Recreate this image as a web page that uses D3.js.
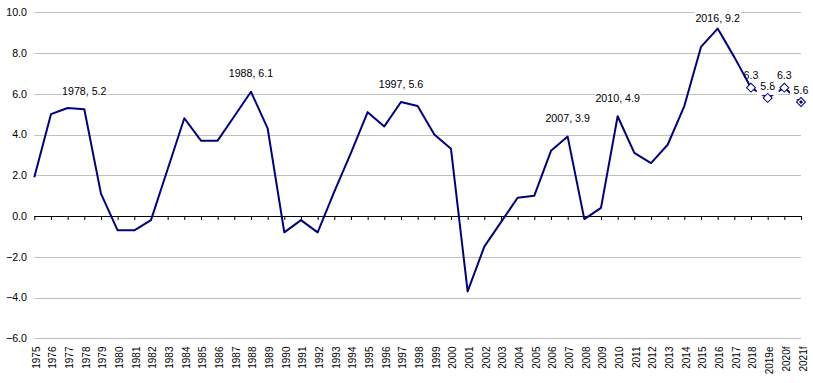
<!DOCTYPE html>
<html><head><meta charset="utf-8">
<script src="https://cdn.jsdelivr.net/npm/d3@7"></script>
<style>
body{margin:0;background:#fff}
svg{display:block;font-family:Arial,"Liberation Sans",sans-serif}
</style></head>
<body><svg id="c" width="813" height="383"></svg>
<script>
const categories = ["1975","1976","1977","1978","1979","1980","1981","1982","1983","1984","1985","1986","1987","1988","1989","1990","1991","1992","1993","1994","1995","1996","1997","1998","1999","2000","2001","2002","2003","2004","2005","2006","2007","2008","2009","2010","2011","2012","2013","2014","2015","2016","2017","2018","2019e","2020f","2021f"];
const actualCategories = categories.slice(0, 44);
const actualValues = [1.9,5.0,5.3,5.24,1.1,-0.7,-0.7,-0.2,2.3,4.8,3.7,3.7,4.9,6.1,4.3,-0.8,-0.2,-0.8,1.2,3.1,5.1,4.4,5.6,5.4,4.0,3.3,-3.7,-1.5,-0.3,0.9,1.0,3.2,3.9,-0.15,0.4,4.9,3.1,2.6,3.5,5.4,8.3,9.2,7.8,6.3];
const forecastCategories = ["2018","2019e","2020f","2021f"];
const forecastValues = [6.3,5.8,6.3,5.6];
const labeledYears = ["1978","1988","1997","2007","2010","2016"];
const yTicks = [-6,-4,-2,0,2,4,6,8,10];

const svg = d3.select("#c");
const plotLeft = 34.3, plotRight = 801, plotTop = 12.3, plotBottom = 338.3;
const x = d3.scalePoint().domain(categories).range([plotLeft, plotRight]);
const y = d3.scaleLinear().domain([-6, 10]).range([plotBottom, plotTop]);
const crisp = v => Math.round(v) + 0.5;
const navy = "#000080";
const fmt = d3.format(".1f");

// gridlines
svg.append("g").selectAll("line").data(yTicks.filter(t => t !== 0)).join("line")
  .attr("x1", plotLeft).attr("x2", plotRight)
  .attr("y1", d => crisp(y(d))).attr("y2", d => crisp(y(d)))
  .attr("stroke", "#c0c0c0").attr("stroke-width", 1);

// y tick labels
svg.append("g").selectAll("text").data(yTicks).join("text")
  .attr("x", 27).attr("y", d => y(d)).attr("dy", "0.35em")
  .attr("text-anchor", "end").attr("font-size", "10.67px").attr("fill", "#000")
  .text(d => fmt(d));

// zero axis with ticks
const zeroAxis = svg.append("g").attr("transform", `translate(0,${crisp(y(0)) - 0.5})`)
  .call(d3.axisBottom(x).tickSize(4).tickSizeOuter(0).tickFormat(""));
zeroAxis.select(".domain").attr("stroke", "#000").attr("d", `M${plotLeft},0.5H${plotRight}`);
zeroAxis.selectAll(".tick line").attr("stroke", "#000");

// category labels
const catAxis = svg.append("g").attr("transform", "translate(0,346.5)")
  .call(d3.axisBottom(x).tickSize(0).tickSizeOuter(0));
catAxis.select(".domain").remove();
catAxis.selectAll("text")
  .attr("transform", "rotate(-90)")
  .attr("text-anchor", "end")
  .attr("x", 0).attr("y", 1.5).attr("dy", "0.35em")
  .attr("font-size", "10px").attr("font-family", "Arial, 'Liberation Sans', sans-serif")
  .attr("fill", "#000");

const line = d3.line().x(d => x(d.c)).y(d => y(d.v));
const actual = actualCategories.map((c, i) => ({c, v: actualValues[i]}));
const forecast = forecastCategories.map((c, i) => ({c, v: forecastValues[i]}));

// forecast line
svg.append("path").datum(forecast).attr("d", line)
  .attr("fill", "none").attr("stroke", navy).attr("stroke-width", 2);

// labels with white background
function addLabel(cx, cy, txt, pad) {
  const g = svg.append("g");
  const t = g.append("text").attr("x", cx).attr("y", cy).attr("dy", "0.35em")
    .attr("text-anchor", "middle").attr("font-size", "10.67px").attr("fill", "#000").text(txt);
  const b = t.node().getBBox();
  g.insert("rect", "text").attr("x", b.x - pad).attr("y", b.y - 1).attr("width", b.width + 2 * pad)
    .attr("height", b.height + pad + 1).attr("fill", "#fff");
}
forecast.forEach(d => addLabel(x(d.c), y(d.v) - 12, fmt(d.v), 3.5));
actual.filter(d => labeledYears.includes(d.c)).forEach(d => {
  addLabel(x(d.c), Math.max(plotTop + 6, y(d.v) - 18), `${d.c}, ${fmt(d.v)}`, 1);
});

// main line
svg.append("path").datum(actual).attr("d", line)
  .attr("fill", "none").attr("stroke", navy).attr("stroke-width", 2)
  .attr("stroke-linejoin", "round");

// diamond markers
const sq = d3.symbol(d3.symbolSquare, 40)();
svg.append("g").selectAll("path").data(forecast).join("path")
  .attr("d", sq)
  .attr("transform", d => `translate(${x(d.c)},${y(d.v)}) rotate(45)`)
  .attr("fill", "#fff").attr("stroke", navy).attr("stroke-width", 1);
const last = forecast[forecast.length - 1];
svg.append("path").attr("d", d3.symbol(d3.symbolSquare, 8)())
  .attr("transform", `translate(${x(last.c)},${y(last.v)}) rotate(45)`)
  .attr("fill", navy);
</script></body></html>
